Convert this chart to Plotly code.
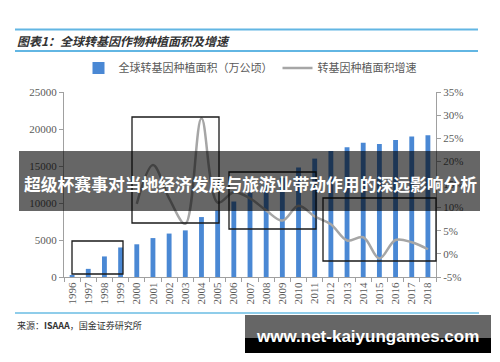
import plotly.graph_objects as go

years = [str(y) for y in range(1996, 2019)]
area = [170, 1100, 2780, 3990, 4420, 5260, 5870, 6300, 8100, 9000, 10200, 11430,
        12500, 13400, 14800, 16000, 17030, 17520, 18150, 17970, 18510, 18980, 19170]
growth = [None, None, None, None, 10.8, 19.2, 12.0, 6.5, 29.3, 11.1, 13.3, 12.0,
          9.4, 7.2, 10.4, 8.1, 6.4, 2.9, 3.6, -1.0, 3.0, 2.5, 1.0]
left_ticks = [0, 5000, 10000, 15000, 20000, 25000]
left_labels = [str(v) for v in left_ticks]
right_ticks = [-5, 0, 5, 10, 15, 20, 25, 30, 35]
right_labels = [f"{v}%" for v in right_ticks]

# page has an 8px body margin; figure is sized so window coords line up
OFF = 8
W, H = 500 - OFF, 362 - OFF
L, R, T, B = 64, 436, 92, 277  # plot area in window pixels


def px(x):
    return (x - L) / (R - L)


def py(y):
    return (B - y) / (B - T)


SERIF = "Liberation Serif, Noto Sans CJK SC"
CJK = "Noto Sans CJK SC"
GRAY = "#595959"

fig = go.Figure()
fig.add_trace(go.Bar(x=years, y=area, name="全球转基因种植面积（万公顷）",
                     marker=dict(color="#4a88d4", line=dict(width=0)), yaxis="y"))
fig.add_trace(go.Scatter(x=years, y=growth, name="转基因种植面积增速", mode="lines",
                         line=dict(color="#a6a6a6", width=2.5, shape="spline", smoothing=1),
                         yaxis="y2", connectgaps=False))

shapes = []


def rect(x0, y0, x1, y1, **kw):
    shapes.append(dict(type="rect", xref="paper", yref="paper",
                       x0=px(x0), x1=px(x1), y0=py(y1), y1=py(y0), **kw))


def hline(x0, x1, y, color, width):
    shapes.append(dict(type="line", xref="paper", yref="paper",
                       x0=px(x0), x1=px(x1), y0=py(y), y1=py(y),
                       line=dict(color=color, width=width)))


# header / footer rules
hline(15, 478, 29.5, "#62b6e3", 2)
hline(15, 478, 51, "#62b6e3", 2)
hline(15, 479, 313, "#8fcdea", 2)

# black annotation boxes
box = dict(line=dict(color="#1a1a1a", width=1.3), fillcolor="rgba(0,0,0,0)", layer="above")
rect(72, 241, 123, 274, **box)
rect(132, 117, 219, 223, **box)
rect(229, 172, 316, 229, **box)
rect(323, 198, 436, 261, **box)

# banner
rect(19, 151, 480, 211, fillcolor="rgba(0,0,0,0.6)", line=dict(width=0), layer="above")
# watermark box
rect(245, 315, 491, 338, fillcolor="#666666", line=dict(width=0), layer="above")
rect(245, 338, 491, 353, fillcolor="#000000", line=dict(width=0), layer="above")

annotations = [
    dict(text="<b><i>图表1：全球转基因作物种植面积及增速</i></b>", x=px(15), y=py(40),
         xref="paper", yref="paper", xanchor="left", yanchor="middle", showarrow=False,
         font=dict(family=CJK, size=12, color="#333333")),
    dict(text="来源：<b>ISAAA</b>，国金证券研究所", x=px(15), y=py(325),
         xref="paper", yref="paper", xanchor="left", yanchor="middle", showarrow=False,
         font=dict(family=CJK, size=9, color="#333333")),
    dict(text="<b>超级杯赛事对当地经济发展与旅游业带动作用的深远影响分析</b>", x=px(250), y=py(184),
         xref="paper", yref="paper", xanchor="center", yanchor="middle", showarrow=False,
         font=dict(family=CJK, size=16.8, color="#ffffff")),
    dict(text="<b>www.net-kaiyungames.com</b>", x=px(367), y=py(336),
         xref="paper", yref="paper", xanchor="center", yanchor="middle", showarrow=False,
         font=dict(family="Liberation Sans, Arial", size=17, color="#ffffff")),
]

fig.update_layout(
    width=W, height=H,
    margin=dict(l=L - OFF, r=W - (R - OFF), t=T - OFF, b=H - (B - OFF), pad=0),
    paper_bgcolor="white", plot_bgcolor="white",
    bargap=0.7,
    showlegend=True,
    legend=dict(orientation="h", x=0.5, xanchor="center", y=py(68), yanchor="middle",
                font=dict(family=CJK, size=11, color=GRAY), bgcolor="rgba(0,0,0,0)",
                itemwidth=30, tracegroupgap=0),
    xaxis=dict(type="category", tickangle=-90, tickson="boundaries", ticks="outside",
               ticklen=4, tickcolor="#a0a0a0", showline=True, linecolor="#a0a0a0",
               linewidth=1, showgrid=False, tickfont=dict(family=SERIF, size=11, color=GRAY)),
    yaxis=dict(range=[0, 25000], tickvals=left_ticks, ticktext=left_labels, ticks="outside",
               ticklen=4, tickcolor="#a0a0a0", showline=True, linecolor="#a0a0a0", linewidth=1,
               showgrid=False, zeroline=False,
               tickfont=dict(family=SERIF, size=11, color=GRAY)),
    yaxis2=dict(range=[-5, 35], tickvals=right_ticks, ticktext=right_labels,
                overlaying="y", side="right", ticks="outside", ticklen=4,
                tickcolor="#a0a0a0", showline=True, linecolor="#a0a0a0", linewidth=1,
                showgrid=False, zeroline=False,
                tickfont=dict(family=SERIF, size=11, color=GRAY)),
    shapes=shapes,
    annotations=annotations,
)

fig.write_html("out.html")
